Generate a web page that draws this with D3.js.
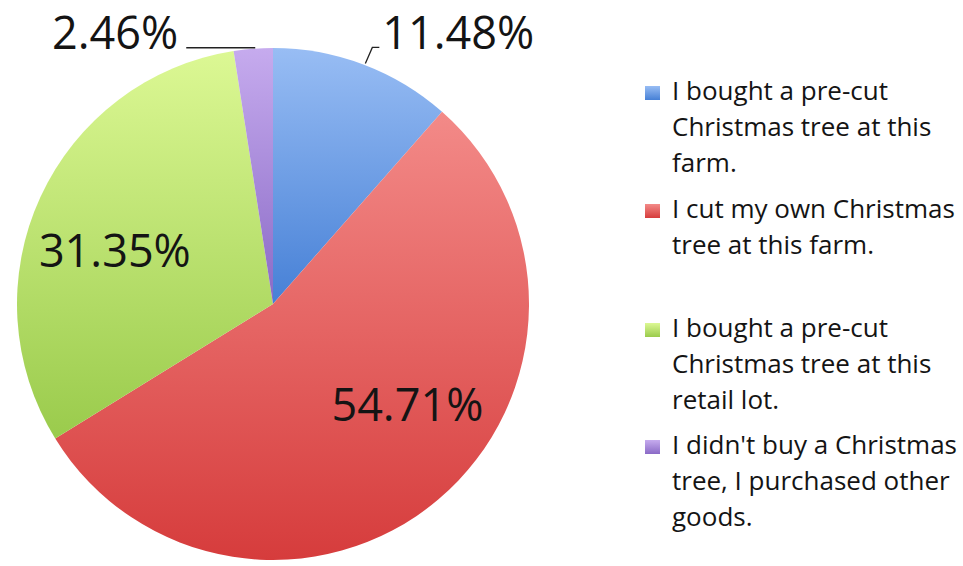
<!DOCTYPE html>
<html>
<head>
<meta charset="utf-8">
<script src="https://cdn.jsdelivr.net/npm/d3@7"></script>
<style>
  html, body { margin: 0; padding: 0; background: #ffffff; }
  svg { display: block; }
  text { font-family: "Open Sans", "Noto Sans", sans-serif; fill: #141414; }
</style>
</head>
<body>
<svg id="chart" width="963" height="566"></svg>
<script>
// Survey answers, in the order they run clockwise from 12 o'clock
const categories = [
  "I bought a pre-cut Christmas tree at this farm.",
  "I cut my own Christmas tree at this farm.",
  "I bought a pre-cut Christmas tree at this retail lot.",
  "I didn't buy a Christmas tree, I purchased other goods."
];
const values = [11.48, 54.71, 31.35, 2.46];
const valueLabels = ["11.48%", "54.71%", "31.35%", "2.46%"];

// Legend text broken into the lines it wraps to
const legendLines = [
  ["I bought a pre-cut", "Christmas tree at this", "farm."],
  ["I cut my own Christmas", "tree at this farm."],
  ["I bought a pre-cut", "Christmas tree at this", "retail lot."],
  ["I didn't buy a Christmas", "tree, I purchased other", "goods."]
];

// Light-to-dark gradient stops per slice
const colorTop = ["#98bdf4", "#f38a88", "#dcf894", "#c6abee"];
const colorBottom = ["#4680d6", "#d63c3c", "#9acb4c", "#8a6ac6"];

const svg = d3.select("#chart");
const cx = 273, cy = 304, radius = 256;

const defs = svg.append("defs");
categories.forEach((c, i) => {
  const g = defs.append("linearGradient")
    .attr("id", "grad" + i)
    .attr("x1", 0).attr("y1", 0).attr("x2", 0).attr("y2", 1);
  g.append("stop").attr("offset", "0%").attr("stop-color", colorTop[i]);
  g.append("stop").attr("offset", "100%").attr("stop-color", colorBottom[i]);
});

const pie = d3.pie().sort(null).value(d => d);
const arcs = pie(values);
const arc = d3.arc().innerRadius(0).outerRadius(radius);
const labelArc = d3.arc().innerRadius(radius * 0.65).outerRadius(radius * 0.65);

const plot = svg.append("g").attr("transform", `translate(${cx},${cy})`);

plot.selectAll("path.slice")
  .data(arcs)
  .join("path")
  .attr("class", "slice")
  .attr("d", arc)
  .attr("fill", (d, i) => `url(#grad${i})`);

// Label placement: inside labels nudge off the centroid, outside labels use leaders
const labelFont = 45;
const inside = { 1: { dx: 27, dy: -28 }, 2: { dx: -7, dy: 15 } };

arcs.forEach((d, i) => {
  if (inside[i]) {
    const [x, y] = labelArc.centroid(d);
    plot.append("text")
      .attr("x", x + inside[i].dx)
      .attr("y", y + inside[i].dy)
      .attr("text-anchor", "middle")
      .attr("dominant-baseline", "central")
      .attr("font-size", labelFont)
      .text(valueLabels[i]);
  }
});

// Leader lines for the two thin slices
function edgePoint(d) {
  const a = (d.startAngle + d.endAngle) / 2;
  return [radius * Math.sin(a), -radius * Math.cos(a)];
}

{
  const d = arcs[0];
  const [x0, y0] = edgePoint(d);
  const yTop = y0 - 17;
  plot.append("path")
    .attr("d", `M${x0 + 2},${y0 - 1} L${x0 + 9},${yTop} L${x0 + 16},${yTop}`)
    .attr("fill", "none").attr("stroke", "#222").attr("stroke-width", 1.3);
  plot.append("text")
    .attr("x", x0 + 19)
    .attr("y", yTop + 2)
    .attr("font-size", labelFont)
    .text(valueLabels[0]);
}
{
  const d = arcs[3];
  const [x0, y0] = edgePoint(d);
  const yLine = y0 - 1;
  plot.append("path")
    .attr("d", `M${x0 + 2},${yLine} L${x0 - 67},${yLine}`)
    .attr("fill", "none").attr("stroke", "#222").attr("stroke-width", 1.3);
  plot.append("text")
    .attr("x", x0 - 75)
    .attr("y", yLine + 1)
    .attr("text-anchor", "end")
    .attr("font-size", labelFont)
    .text(valueLabels[3]);
}

// Legend
const legendX = 645, textX = 672, lineStep = 36;
const firstBaselines = [100, 218, 337, 454];
const legend = svg.append("g");
legendLines.forEach((lines, i) => {
  const b = firstBaselines[i];
  legend.append("rect")
    .attr("x", legendX).attr("y", b - 14)
    .attr("width", 15).attr("height", 14)
    .attr("fill", `url(#grad${i})`);
  const t = legend.append("text")
    .attr("x", textX).attr("y", b)
    .attr("font-size", 26);
  lines.forEach((ln, j) => {
    t.append("tspan").attr("x", textX).attr("y", b + j * lineStep).text(ln);
  });
});
</script>
</body>
</html>
